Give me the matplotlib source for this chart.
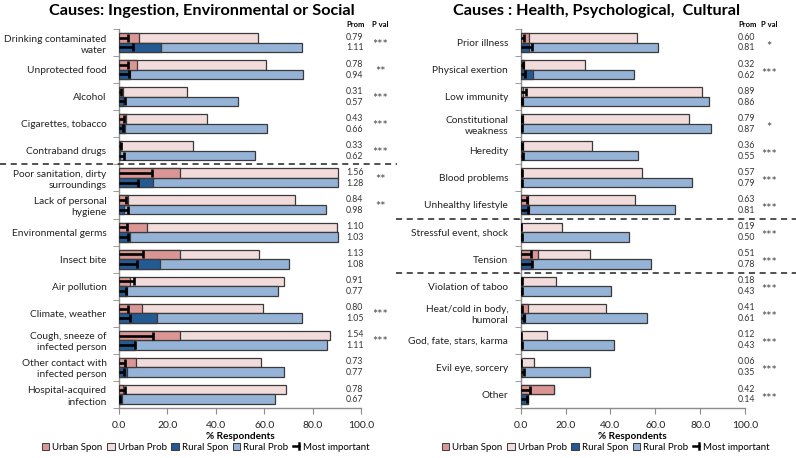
import numpy as np
import matplotlib
matplotlib.use("Agg")
import matplotlib.pyplot as plt
from matplotlib.patches import Patch
from matplotlib.lines import Line2D
from matplotlib.transforms import blended_transform_factory
from matplotlib.legend_handler import HandlerBase

plt.rcParams['font.family'] = ['Lato', 'DejaVu Sans']

# ---------------- data ----------------
left_title = "Causes: Ingestion, Environmental or Social"
left_cats = ["Drinking contaminated\nwater", "Unprotected food", "Alcohol", "Cigarettes, tobacco",
             "Contraband drugs", "Poor sanitation, dirty\nsurroundings", "Lack of personal\nhygiene",
             "Environmental germs", "Insect bite", "Air pollution", "Climate, weather",
             "Cough, sneeze of\ninfected person", "Other contact with\ninfected person",
             "Hospital-acquired\ninfection"]
left_urban_spon = [8.4, 7.3, 1.5, 2.9, 0.5, 25.2, 3.9, 11.7, 25.2, 4.5, 9.4, 25.2, 7.0, 1.5]
left_urban_prob = [57.6, 60.7, 28.0, 36.2, 30.7, 90.4, 72.7, 90.0, 58.0, 68.2, 59.5, 87.2, 58.5, 69.1]
left_urban_mi = [3.8, 3.6, 0.8, 2.1, 0.8, 13.8, 2.9, 3.2, 10.1, 6.2, 3.9, 14.2, 2.5, 2.5]
left_rural_spon = [17.2, 4.5, 1.5, 2.3, 0.5, 14.2, 2.1, 4.5, 16.8, 3.2, 15.6, 6.6, 3.4, 1.1]
left_rural_prob = [75.8, 76.2, 49.3, 61.0, 56.3, 90.4, 85.4, 90.4, 70.4, 65.8, 75.8, 85.8, 68.0, 64.6]
left_rural_mi = [5.9, 4.3, 2.5, 1.5, 2.0, 8.0, 3.7, 3.6, 7.3, 2.9, 4.5, 6.6, 2.1, 0.5]
left_prom_urban = ["0.79", "0.78", "0.31", "0.43", "0.33", "1.56", "0.84", "1.10", "1.13", "0.91", "0.80", "1.54", "0.73", "0.78"]
left_prom_rural = ["1.11", "0.94", "0.57", "0.66", "0.62", "1.28", "0.98", "1.03", "1.08", "0.77", "1.05", "1.11", "0.77", "0.67"]
left_pval = ["***", "**", "***", "***", "***", "**", "**", "", "", "", "***", "***", "", ""]
left_separators = [4.5]

right_title = "Causes : Health, Psychological,  Cultural"
right_cats = ["Prior illness", "Physical exertion", "Low immunity", "Constitutional\nweakness",
              "Heredity", "Blood problems", "Unhealthy lifestyle", "Stressful event, shock",
              "Tension", "Violation of taboo", "Heat/cold in body,\nhumoral",
              "God, fate, stars, karma", "Evil eye, sorcery", "Other"]
right_urban_spon = [3.9, 1.5, 1.2, 0.9, 1.0, 0.5, 3.1, 0.3, 7.9, 0.7, 3.1, 0.3, 0.3, 14.8]
right_urban_prob = [52.0, 28.7, 81.0, 75.2, 31.9, 54.2, 50.8, 18.5, 30.7, 15.7, 38.0, 11.6, 6.1, 14.8]
right_urban_mi = [1.5, 1.2, 2.2, 0.8, 0.8, 0.8, 2.9, 0.0, 4.6, 0.5, 0.5, 0.3, 0.3, 4.2]
right_rural_spon = [3.9, 5.6, 0.9, 0.8, 0.5, 0.5, 3.6, 0.7, 4.4, 0.5, 1.9, 0.7, 0.7, 3.4]
right_rural_prob = [61.4, 50.6, 84.1, 85.0, 52.4, 76.5, 68.6, 48.3, 58.1, 40.1, 56.5, 41.6, 30.7, 3.4]
right_rural_mi = [5.2, 1.9, 0.8, 0.8, 0.9, 0.8, 3.4, 0.5, 5.2, 0.8, 1.5, 0.8, 1.5, 2.7]
right_prom_urban = ["0.60", "0.32", "0.89", "0.79", "0.36", "0.57", "0.63", "0.19", "0.51", "0.18", "0.41", "0.12", "0.06", "0.42"]
right_prom_rural = ["0.81", "0.62", "0.86", "0.87", "0.55", "0.79", "0.81", "0.50", "0.78", "0.43", "0.61", "0.43", "0.35", "0.14"]
right_pval = ["*", "***", "", "*", "***", "***", "***", "***", "***", "***", "***", "***", "***", "***"]
right_separators = [6.5, 8.5]

xticks = [0, 20, 40, 60, 80, 100]
legend_labels = ["Urban Spon", "Urban Prob", "Rural Spon", "Rural Prob", "Most important"]

# ---------------- style ----------------
C_US = "#d99694"
C_UP = "#f2dcdb"
C_RS = "#245a93"
C_RP = "#95b3d7"
EDGE = "#3a3a3a"
AX = "#8c8c8c"

W, H = 796, 458
fig = plt.figure(figsize=(W / 100, H / 100), dpi=100)


class MIHandler(HandlerBase):
    def create_artists(self, legend, orig_handle, xdescent, ydescent, width, height, fontsize, trans):
        y = height / 2 - ydescent
        x0 = -xdescent + width * 0.05
        x1 = -xdescent + width * 0.8
        l1 = Line2D([x0, x1], [y, y], color="black", lw=1.8, transform=trans)
        l2 = Line2D([x1, x1], [y - height * 0.45, y + height * 0.45], color="black", lw=1.8, transform=trans)
        return [l1, l2]


def panel(ax_rect, title, title_x, cats, us, up, umi, rs, rp, rmi, pu, pr, pv, seps,
          prom_x, pval_x, sep_x, star_off, legend_x):
    ax = fig.add_axes(ax_rect)
    n = len(cats)
    y = np.arange(n)
    h = 0.35
    yu = y - h / 2
    yr = y + h / 2
    ax.barh(yu, up, height=h, color=C_UP, edgecolor=EDGE, linewidth=0.9, zorder=2)
    ax.barh(yu, us, height=h, color=C_US, edgecolor=EDGE, linewidth=0.9, zorder=3)
    ax.barh(yr, rp, height=h, color=C_RP, edgecolor=EDGE, linewidth=0.9, zorder=2)
    ax.barh(yr, rs, height=h, color=C_RS, edgecolor=EDGE, linewidth=0.9, zorder=3)
    for yy, vals in ((yu, umi), (yr, rmi)):
        ax.hlines(yy, 0, vals, color="black", lw=1.9, zorder=4)
        ax.plot(vals, yy, linestyle="none", marker="|", ms=6, mew=1.9, color="black", zorder=4)

    ax.set_xlim(0, 100)
    ax.set_ylim(n - 0.5, -0.5)
    ax.set_xticks(xticks)
    ax.set_xticklabels([f"{v:.1f}" for v in xticks], fontsize=7.5, color="#222222")
    ax.set_yticks(y)
    ax.set_yticklabels(cats, fontsize=7.3, color="#222222", linespacing=1.3)
    ax.tick_params(axis="y", length=0, pad=9)
    ax.set_yticks(np.arange(-0.5, n), minor=True)
    ax.tick_params(axis="y", which="minor", length=4, color=AX, direction="out")
    ax.tick_params(axis="x", length=4, color=AX, direction="out", pad=5)
    for s in ("top", "right"):
        ax.spines[s].set_visible(False)
    for s in ("left", "bottom"):
        ax.spines[s].set_color(AX)
        ax.spines[s].set_linewidth(1.0)
    ax.set_xlabel("% Respondents", fontsize=7.2, fontweight="bold", labelpad=2)

    tr = blended_transform_factory(fig.transFigure, ax.transData)
    ax.text(prom_x / W, -0.66, "Prom", transform=tr, fontsize=5.5, fontweight="bold",
            ha="left", va="center", clip_on=False)
    ax.text(pval_x / W, -0.66, "P val", transform=tr, fontsize=5.5, fontweight="bold",
            ha="center", va="center", clip_on=False)
    for i in range(n):
        ax.text(prom_x / W, i - 0.2, pu[i], transform=tr, fontsize=6.3, color="#333333",
                ha="left", va="center", clip_on=False)
        ax.text(prom_x / W, i + 0.2, pr[i], transform=tr, fontsize=6.3, color="#333333",
                ha="left", va="center", clip_on=False)
        if pv[i]:
            ax.text(pval_x / W, i + star_off, pv[i], transform=tr, fontsize=9, color="#444444",
                    ha="center", va="center", clip_on=False)
    for s in seps:
        ln = Line2D([sep_x[0] / W, sep_x[1] / W], [s, s], transform=tr, color="#222222",
                    lw=1.1, linestyle=(0, (4, 3)), clip_on=False)
        fig.add_artist(ln)

    fig.text(title_x / W, 1 - 11 / H, title, fontsize=11.7, fontweight="bold",
             ha="center", va="center")

    handles = [Patch(facecolor=C_US, edgecolor=EDGE, lw=0.7),
               Patch(facecolor=C_UP, edgecolor=EDGE, lw=0.7),
               Patch(facecolor=C_RS, edgecolor=EDGE, lw=0.7),
               Patch(facecolor=C_RP, edgecolor=EDGE, lw=0.7),
               Line2D([], [], color="black")]
    fig.legend(handles, legend_labels, loc="center", bbox_to_anchor=(legend_x / W, 1 - 447 / H),
               ncol=5, frameon=False, fontsize=7.0, handlelength=0.75, handleheight=0.75,
               handletextpad=0.3, columnspacing=0.5, borderpad=0,
               handler_map={Line2D: MIHandler()})
    return ax


bottom = 1 - 408 / H
height = 379 / H
panel([119 / W, bottom, 242 / W, height], left_title, 202, left_cats,
      left_urban_spon, left_urban_prob, left_urban_mi, left_rural_spon, left_rural_prob,
      left_rural_mi, left_prom_urban, left_prom_rural, left_pval, left_separators,
      346, 380, (0, 397), 0.08, 206)
panel([520.7 / W, bottom, 224.3 / W, height], right_title, 597, right_cats,
      right_urban_spon, right_urban_prob, right_urban_mi, right_rural_spon, right_rural_prob,
      right_rural_mi, right_prom_urban, right_prom_rural, right_pval, right_separators,
      738, 769, (396, 796), 0.15, 606)

fig.savefig("out.png", dpi=100)
